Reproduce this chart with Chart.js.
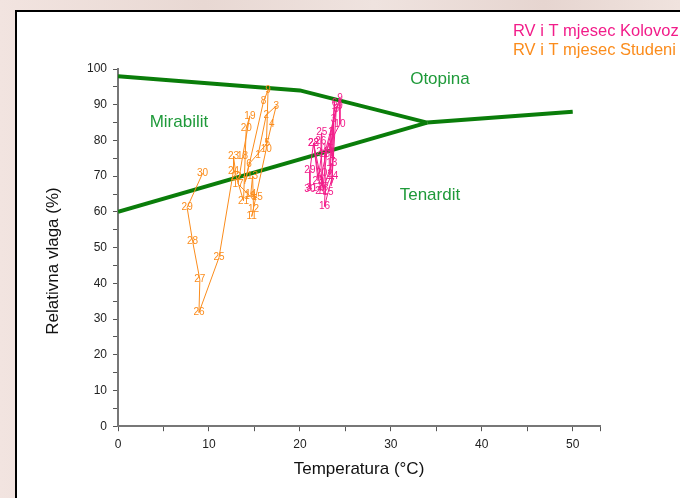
<!DOCTYPE html>
<html>
<head>
<meta charset="utf-8">
<script src="https://cdn.jsdelivr.net/npm/chart.js@4/dist/chart.umd.min.js"></script>
<style>
  html, body { margin: 0; padding: 0; }
  body {
    width: 680px; height: 498px; overflow: hidden; position: relative;
    background: linear-gradient(90deg, #f2e4e0 0%, #e8d8d3 30%, #efe3df 55%, #e6d5d0 80%, #f0e3de 100%);
  }
  #panel {
    position: absolute; left: 15px; top: 10px; width: 700px; height: 520px;
    background: #fff; border: 2px solid #000; box-sizing: border-box;
  }
  #wrap { position: absolute; left: 0; top: 0; width: 680px; height: 498px; }
</style>
</head>
<body>
<div id="panel"></div>
<div id="wrap"><canvas id="chart" width="680" height="498"></canvas></div>
<script>
// RV i T mjesec Kolovoz (August)
var augDays = [1,2,3,4,5,6,7,8,9,10,11,12,13,14,15,16,17,18,19,20,21,22,23,24,25,26,27,28,29,30,31];
var augT  = [23.4,23.3,23.7,23.6,23.4,23.8,23.5,24.0,24.4,24.4,23.0,22.5,23.5,23.6,23.1,22.7,22.8,22.7,24.1,22.4,22.3,21.5,22.0,22.4,22.4,22.3,22.5,21.5,21.1,21.1,21.3];
var augRV = [82.2,70.5,86.0,75.2,77.5,90.5,68.0,88.8,91.9,84.6,77.8,65.8,73.6,70.1,65.5,61.5,68.0,76.0,89.7,70.8,65.9,79.3,68.7,76.6,82.2,79.9,67.0,79.2,71.7,66.4,66.5];

// RV i T mjesec Studeni (November)
var novDays = [1,2,3,4,5,6,7,8,9,10,11,12,13,14,15,16,17,18,19,20,21,22,23,24,25,26,27,28,29,30];
var novT  = [15.4,16.3,17.4,16.9,16.4,14.4,14.0,16.0,16.5,16.3,14.7,14.9,14.8,14.6,15.3,14.5,13.2,13.7,14.5,14.1,13.8,13.0,12.7,12.7,11.1,8.9,9.0,8.2,7.6,9.3];
var novRV = [75.9,87.1,89.7,84.6,79.2,73.4,68.5,90.9,94.1,77.6,58.7,60.8,70.1,65.0,64.0,64.5,67.8,75.5,86.9,83.4,63.1,69.8,75.5,71.5,47.2,31.8,41.0,51.8,61.2,70.8];

// phase boundaries
var mirOtoT  = [0, 20, 34];
var mirOtoRV = [98, 94, 85];
var mirTenT  = [0, 34];
var mirTenRV = [60, 85];
var otoTenT  = [34, 50];
var otoTenRV = [85, 88];

var regionNames = ['Mirabilit', 'Otopina', 'Tenardit'];
var regionT  = [6.7, 35.4, 34.3];
var regionRV = [85, 97.2, 64.5];

var seriesNames = ['RV i T mjesec Kolovoz', 'RV i T mjesec Studeni'];
var yTitle = 'Relativna vlaga (%)';
var pink = '#f21d8a';
var orange = '#fb8c1c';
var green = '#0a7d0a';
var font = '"Liberation Sans", Arial, sans-serif';

function pts(xs, ys) {
  return xs.map(function (x, i) { return { x: x, y: ys[i] }; });
}

var dayLabels = {
  id: 'dayLabels',
  afterDatasetsDraw: function (chart) {
    var ctx = chart.ctx;
    var xs = chart.scales.x, ys = chart.scales.y;
    ctx.save();
    ctx.font = '10px ' + font;
    ctx.textAlign = 'center';
    ctx.textBaseline = 'middle';
    [[augT, augRV, augDays, pink], [novT, novRV, novDays, orange]].forEach(function (s) {
      ctx.fillStyle = s[3];
      s[0].forEach(function (t, i) {
        ctx.fillText(String(s[2][i]), xs.getPixelForValue(t), ys.getPixelForValue(s[1][i]));
      });
    });
    ctx.font = '17px ' + font;
    ctx.fillStyle = '#1f9a3a';
    regionNames.forEach(function (n, i) {
      ctx.fillText(n, xs.getPixelForValue(regionT[i]), ys.getPixelForValue(regionRV[i]));
    });
    // y axis title, sits a bit below the axis centre like the original
    ctx.save();
    ctx.translate(53, 261);
    ctx.rotate(-Math.PI / 2);
    ctx.fillStyle = '#111';
    ctx.fillText(yTitle, 0, 0);
    ctx.restore();
    ctx.textAlign = 'left';
    ctx.font = '16.5px ' + font;
    ctx.fillStyle = pink;
    ctx.fillText(seriesNames[0], 513, 31);
    ctx.fillStyle = orange;
    ctx.fillText(seriesNames[1], 513, 50);
    ctx.restore();
  }
};

var ctx = document.getElementById('chart');
new Chart(ctx, {
  type: 'scatter',
  data: {
    datasets: [
      { data: pts(augT, augRV), showLine: true, borderColor: pink, borderWidth: 1, pointRadius: 0 },
      { data: pts(novT, novRV), showLine: true, borderColor: orange, borderWidth: 1, pointRadius: 0 },
      { data: pts(mirOtoT, mirOtoRV), showLine: true, borderColor: green, borderWidth: 4, pointRadius: 0 },
      { data: pts(mirTenT, mirTenRV), showLine: true, borderColor: green, borderWidth: 4, pointRadius: 0 },
      { data: pts(otoTenT, otoTenRV), showLine: true, borderColor: green, borderWidth: 4, pointRadius: 0 }
    ]
  },
  options: {
    responsive: false,
    animation: false,
    devicePixelRatio: 1,
    layout: { padding: { top: 69, left: 81, right: 80, bottom: 14.5 } },
    plugins: { legend: { display: false }, tooltip: { enabled: false } },
    scales: {
      x: {
        type: 'linear', min: 0, max: 53,
        border: { color: '#777', width: 2 },
        grid: { drawOnChartArea: false, drawTicks: true, tickLength: 5, color: '#555' },
        ticks: {
          stepSize: 5, color: '#222', padding: 6, maxRotation: 0,
          font: { size: 12, family: font },
          callback: function (v) { return v % 10 === 0 && v <= 50 ? v : ''; }
        },
        title: { display: true, text: 'Temperatura (°C)', color: '#111', padding: { top: 1.5 },
                 font: { size: 17, family: font } }
      },
      y: {
        type: 'linear', min: 0, max: 100,
        border: { color: '#777', width: 2 },
        grid: { drawOnChartArea: false, drawTicks: true, tickLength: 5, color: '#555' },
        ticks: {
          stepSize: 5, color: '#222', padding: 6,
          font: { size: 12, family: font },
          callback: function (v) { return v % 10 === 0 ? v : ''; }
        }
      }
    }
  },
  plugins: [dayLabels]
});
</script>
</body>
</html>
